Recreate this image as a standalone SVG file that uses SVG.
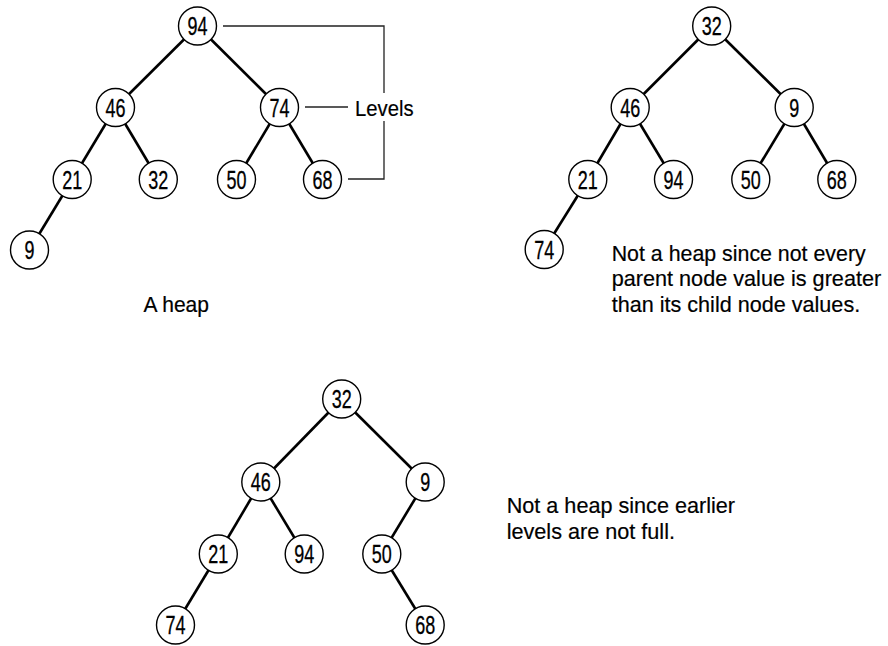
<svg xmlns="http://www.w3.org/2000/svg" width="888" height="646" viewBox="0 0 888 646">
<style>
  .edge { stroke: #000; stroke-width: 2.6; stroke-linecap: butt; fill: none; }
  .bracket { stroke: #222; stroke-width: 1.3; fill: none; }
  .node circle { fill: #fff; stroke: #000; stroke-width: 1.4; }
  .node text { font-family: "Liberation Sans", Arial, sans-serif; font-size: 25px; fill: #000; stroke: #000; stroke-width: 0.3; text-anchor: middle; }
  .label { font-family: "Liberation Sans", Arial, sans-serif; font-size: 22px; fill: #000; stroke: #000; stroke-width: 0.2; }
</style>
<rect width="888" height="646" fill="#fff"/>

<g id="connectors">
  <!-- Tree 1 -->
  <line class="edge" x1="197.5" y1="26" x2="115.5" y2="107.5"/>
  <line class="edge" x1="197.5" y1="26" x2="279.5" y2="107.5"/>
  <line class="edge" x1="115.5" y1="107.5" x2="72.2" y2="179.5"/>
  <line class="edge" x1="115.5" y1="107.5" x2="158.3" y2="179.5"/>
  <line class="edge" x1="279.5" y1="107.5" x2="236.5" y2="179.5"/>
  <line class="edge" x1="279.5" y1="107.5" x2="322.5" y2="179.5"/>
  <line class="edge" x1="72.2" y1="179.5" x2="29.5" y2="250"/>
  <!-- Levels bracket -->
  <polyline class="bracket" points="223,26 384,26 384,93"/>
  <polyline class="bracket" points="384,121 384,179 348,179"/>
  <line class="bracket" x1="305" y1="107" x2="348" y2="107"/>
  <!-- Tree 2 -->
  <line class="edge" x1="711.7" y1="26" x2="630.2" y2="107.5"/>
  <line class="edge" x1="711.7" y1="26" x2="794.2" y2="107.5"/>
  <line class="edge" x1="630.2" y1="107.5" x2="587.8" y2="179.5"/>
  <line class="edge" x1="630.2" y1="107.5" x2="673.5" y2="179.5"/>
  <line class="edge" x1="794.2" y1="107.5" x2="750.8" y2="179.5"/>
  <line class="edge" x1="794.2" y1="107.5" x2="836.8" y2="179.5"/>
  <line class="edge" x1="587.8" y1="179.5" x2="544.2" y2="249.5"/>
  <!-- Tree 3 -->
  <line class="edge" x1="341.7" y1="399" x2="260.8" y2="482"/>
  <line class="edge" x1="341.7" y1="399" x2="425.2" y2="482"/>
  <line class="edge" x1="260.8" y1="482" x2="218.3" y2="554"/>
  <line class="edge" x1="260.8" y1="482" x2="304.2" y2="554"/>
  <line class="edge" x1="425.2" y1="482" x2="381.8" y2="554"/>
  <line class="edge" x1="218.3" y1="554" x2="175.5" y2="625"/>
  <line class="edge" x1="381.8" y1="554" x2="425.2" y2="625"/>
</g>

<!-- Tree 1 nodes -->
<g id="t1-94" class="node"><circle cx="197.5" cy="26" r="19"/><text x="197.5" y="35" textLength="20" lengthAdjust="spacingAndGlyphs">94</text></g>
<g id="t1-46" class="node"><circle cx="115.5" cy="107.5" r="19"/><text x="115.5" y="116.5" textLength="20" lengthAdjust="spacingAndGlyphs">46</text></g>
<g id="t1-74" class="node"><circle cx="279.5" cy="107.5" r="19"/><text x="279.5" y="116.5" textLength="20" lengthAdjust="spacingAndGlyphs">74</text></g>
<g id="t1-21" class="node"><circle cx="72.2" cy="179.5" r="19"/><text x="72.2" y="188.5" textLength="20" lengthAdjust="spacingAndGlyphs">21</text></g>
<g id="t1-32" class="node"><circle cx="158.3" cy="179.5" r="19"/><text x="158.3" y="188.5" textLength="20" lengthAdjust="spacingAndGlyphs">32</text></g>
<g id="t1-50" class="node"><circle cx="236.5" cy="179.5" r="19"/><text x="236.5" y="188.5" textLength="20" lengthAdjust="spacingAndGlyphs">50</text></g>
<g id="t1-68" class="node"><circle cx="322.5" cy="179.5" r="19"/><text x="322.5" y="188.5" textLength="20" lengthAdjust="spacingAndGlyphs">68</text></g>
<g id="t1-9" class="node"><circle cx="29.5" cy="250" r="19"/><text x="29.5" y="259" textLength="10" lengthAdjust="spacingAndGlyphs">9</text></g>
<g id="levels-label"><text class="label" x="355" y="115.5" textLength="58.5" lengthAdjust="spacingAndGlyphs">Levels</text></g>
<g id="caption-1"><text class="label" x="143.5" y="312.3" textLength="65.5" lengthAdjust="spacingAndGlyphs">A heap</text></g>

<!-- Tree 2 nodes -->
<g id="t2-32" class="node"><circle cx="711.7" cy="26" r="19"/><text x="711.7" y="35" textLength="20" lengthAdjust="spacingAndGlyphs">32</text></g>
<g id="t2-46" class="node"><circle cx="630.2" cy="107.5" r="19"/><text x="630.2" y="116.5" textLength="20" lengthAdjust="spacingAndGlyphs">46</text></g>
<g id="t2-9" class="node"><circle cx="794.2" cy="107.5" r="19"/><text x="794.2" y="116.5" textLength="10" lengthAdjust="spacingAndGlyphs">9</text></g>
<g id="t2-21" class="node"><circle cx="587.8" cy="179.5" r="19"/><text x="587.8" y="188.5" textLength="20" lengthAdjust="spacingAndGlyphs">21</text></g>
<g id="t2-94" class="node"><circle cx="673.5" cy="179.5" r="19"/><text x="673.5" y="188.5" textLength="20" lengthAdjust="spacingAndGlyphs">94</text></g>
<g id="t2-50" class="node"><circle cx="750.8" cy="179.5" r="19"/><text x="750.8" y="188.5" textLength="20" lengthAdjust="spacingAndGlyphs">50</text></g>
<g id="t2-68" class="node"><circle cx="836.8" cy="179.5" r="19"/><text x="836.8" y="188.5" textLength="20" lengthAdjust="spacingAndGlyphs">68</text></g>
<g id="t2-74" class="node"><circle cx="544.2" cy="249.5" r="19"/><text x="544.2" y="258.5" textLength="20" lengthAdjust="spacingAndGlyphs">74</text></g>
<g id="caption-2">
  <text class="label" x="611.7" y="260.7" textLength="254" lengthAdjust="spacingAndGlyphs">Not a heap since not every</text>
  <text class="label" x="611.7" y="286.2" textLength="269.5" lengthAdjust="spacingAndGlyphs">parent node value is greater</text>
  <text class="label" x="611.7" y="311.7" textLength="248.5" lengthAdjust="spacingAndGlyphs">than its child node values.</text>
</g>

<!-- Tree 3 nodes -->
<g id="t3-32" class="node"><circle cx="341.7" cy="399" r="19"/><text x="341.7" y="408" textLength="20" lengthAdjust="spacingAndGlyphs">32</text></g>
<g id="t3-46" class="node"><circle cx="260.8" cy="482" r="19"/><text x="260.8" y="491" textLength="20" lengthAdjust="spacingAndGlyphs">46</text></g>
<g id="t3-9" class="node"><circle cx="425.2" cy="482" r="19"/><text x="425.2" y="491" textLength="10" lengthAdjust="spacingAndGlyphs">9</text></g>
<g id="t3-21" class="node"><circle cx="218.3" cy="554" r="19"/><text x="218.3" y="563" textLength="20" lengthAdjust="spacingAndGlyphs">21</text></g>
<g id="t3-94" class="node"><circle cx="304.2" cy="554" r="19"/><text x="304.2" y="563" textLength="20" lengthAdjust="spacingAndGlyphs">94</text></g>
<g id="t3-50" class="node"><circle cx="381.8" cy="554" r="19"/><text x="381.8" y="563" textLength="20" lengthAdjust="spacingAndGlyphs">50</text></g>
<g id="t3-74" class="node"><circle cx="175.5" cy="625" r="19"/><text x="175.5" y="634" textLength="20" lengthAdjust="spacingAndGlyphs">74</text></g>
<g id="t3-68" class="node"><circle cx="425.2" cy="625" r="19"/><text x="425.2" y="634" textLength="20" lengthAdjust="spacingAndGlyphs">68</text></g>
<g id="caption-3">
  <text class="label" x="506.7" y="513.3" textLength="228.3" lengthAdjust="spacingAndGlyphs">Not a heap since earlier</text>
  <text class="label" x="506.7" y="539.3" textLength="168.3" lengthAdjust="spacingAndGlyphs">levels are not full.</text>
</g>
</svg>
